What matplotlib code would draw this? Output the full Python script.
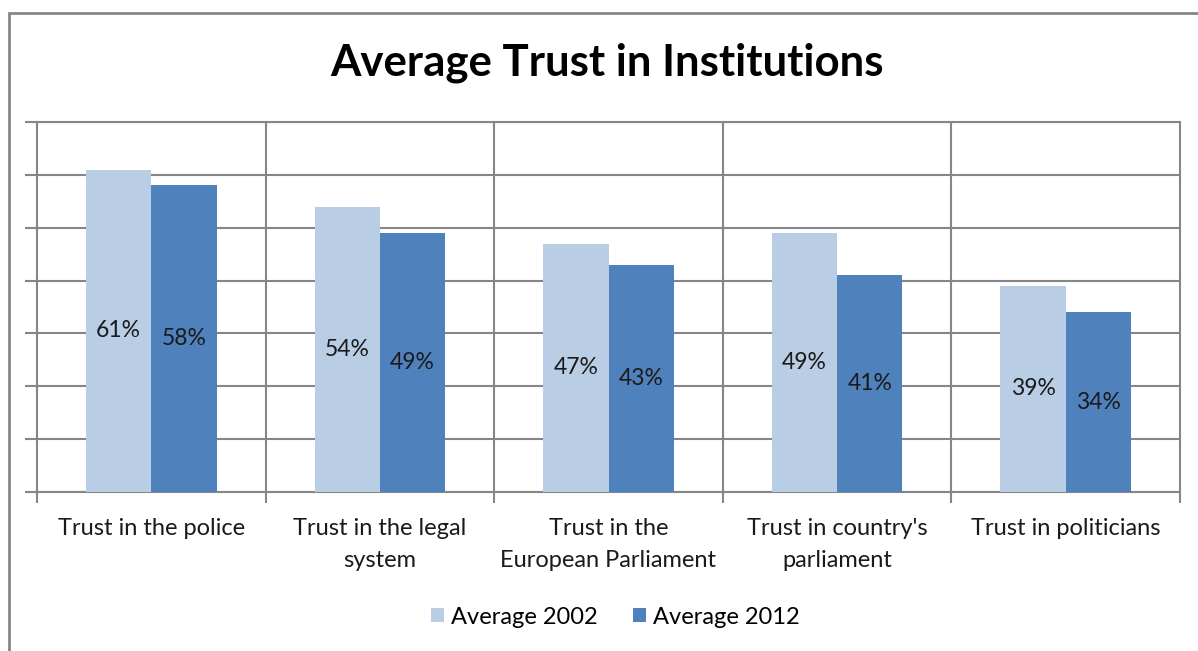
import numpy as np
import matplotlib
matplotlib.use('Agg')
import matplotlib.pyplot as plt
from matplotlib.patches import Rectangle

plt.rcParams['font.family'] = ['Lato', 'DejaVu Sans']

categories = ['Trust in the police', 'Trust in the legal\nsystem', 'Trust in the\nEuropean Parliament',
              "Trust in country's\nparliament", 'Trust in politicians']
avg_2002 = [61, 54, 47, 49, 39]
avg_2012 = [58, 49, 43, 41, 34]

grid_col = '#868686'
light = '#B9CDE5'
dark = '#4F81BD'

fig = plt.figure(figsize=(11.98, 6.51), dpi=100)
# outer chart border
fig.patches.append(Rectangle((9 / 1198, -0.1), 1.2, 1 - 13 / 651 + 0.1, transform=fig.transFigure,
                             fill=False, edgecolor=grid_col, linewidth=2, zorder=0))

ax = fig.add_axes([37 / 1198, 1 - 492 / 651, (1180 - 37) / 1198, (492 - 122) / 651])

x = np.arange(len(categories))
w = 1 / 3.5
b1 = ax.bar(x - w / 2, avg_2002, w, color=light, label='Average 2002', zorder=3)
b2 = ax.bar(x + w / 2, avg_2012, w, color=dark, label='Average 2012', zorder=3)

for bars, vals in [(b1, avg_2002), (b2, avg_2012)]:
    for r, v in zip(bars, vals):
        ax.text(r.get_x() + r.get_width() / 2, v / 2, f'{v}%', ha='center', va='center',
                fontsize=16.5, color='#1a1a1a', zorder=4)

ax.set_xlim(-0.5, len(categories) - 0.5)
ax.set_ylim(0, 70)
ax.set_yticks(np.arange(0, 71, 10))
ax.set_yticklabels([])
ax.yaxis.grid(True, color=grid_col, linewidth=1.5, zorder=1)

# vertical separators between categories
bounds = np.arange(-0.5, len(categories) + 0.5, 1)
ax.set_xticks(bounds)
ax.set_xticklabels([])
for bx in bounds[1:-1]:
    ax.axvline(bx, color=grid_col, linewidth=1.5, zorder=1)
ax.set_xticks(x, minor=True)
ax.set_xticklabels(categories, minor=True, fontsize=17, color='#1a1a1a', linespacing=1.6)
ax.tick_params(axis='x', which='minor', length=0, pad=19)
ax.tick_params(axis='x', which='major', length=8, width=1.5, color=grid_col, direction='out')
ax.tick_params(axis='y', length=9, width=1.5, color=grid_col, direction='out')

for s in ax.spines.values():
    s.set_color(grid_col)
    s.set_linewidth(1.5)

fig.text(607 / 1198, 1 - 63 / 651, 'Average Trust in Institutions', ha='center', va='center',
         fontsize=31.5, fontweight='bold', color='black')

fig.legend(handles=[b1, b2], loc='center', bbox_to_anchor=(615 / 1198, 1 - 617 / 651), ncol=2,
           frameon=False, fontsize=17, handlelength=0.55, handleheight=0.55, handletextpad=0.3,
           columnspacing=1.5)

fig.savefig('out.png', dpi=100)
